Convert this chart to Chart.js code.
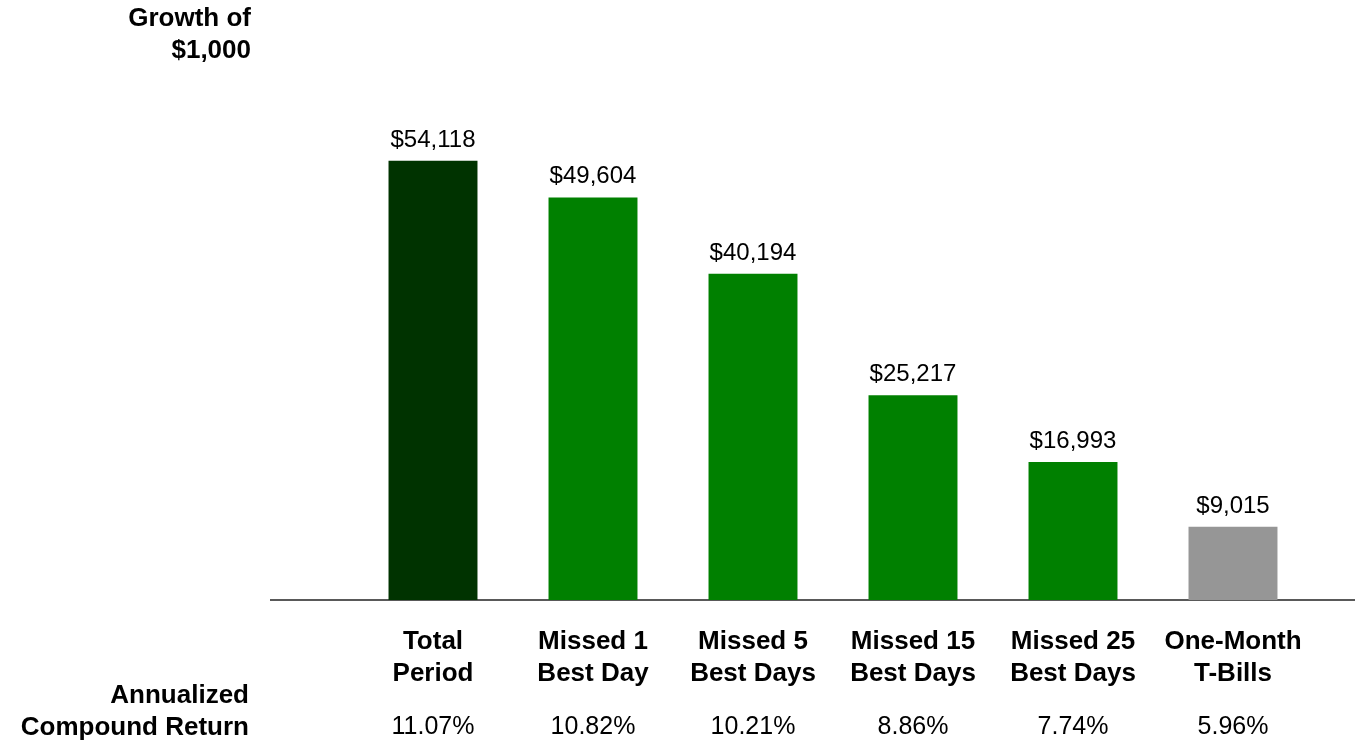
<!DOCTYPE html>
<html lang="en">

<head>
    <meta charset="UTF-8">
    <meta name="viewport" content="width=device-width, initial-scale=1.0">
    <script src="https://cdn.jsdelivr.net/npm/chart.js"></script>
    <title>Growth of $1,000</title>
    <style>
        html, body { margin: 0; padding: 0; background: white; }
        .graph { width: 1355px; height: 742px; }
    </style>
</head>

<body>
    <div class="graph">
        <canvas id="myChart"></canvas>
    </div>
</body>

</html>

<script>
    // chart data
    var categorias = [
        ['Total', 'Period'],
        ['Missed 1', 'Best Day'],
        ['Missed 5', 'Best Days'],
        ['Missed 15', 'Best Days'],
        ['Missed 25', 'Best Days'],
        ['One-Month', 'T-Bills']
    ]
    var valores = [54118, 49604, 40194, 25217, 16993, 9015]
    var retornos = ['11.07%', '10.82%', '10.21%', '8.86%', '7.74%', '5.96%']
    var cores = ['#003300', '#008000', '#008000', '#008000', '#008000', '#969696']

    var fonte = "'Liberation Sans', Arial, sans-serif"

    function formatarDolar(v) {
        return '$' + v.toLocaleString('en-US')
    }

    // axis line, value labels, left titles and return row
    var extras = {
        id: 'extras',
        beforeDatasetsDraw: function (chart) {
            var ctx = chart.ctx
            var y = chart.scales.y.getPixelForValue(0)
            ctx.save()
            ctx.strokeStyle = '#595959'
            ctx.lineWidth = 2
            ctx.beginPath()
            ctx.moveTo(270, y)
            ctx.lineTo(1355, y)
            ctx.stroke()
            ctx.restore()
        },
        afterDatasetsDraw: function (chart) {
            var ctx = chart.ctx
            var meta = chart.getDatasetMeta(0)
            var xScale = chart.scales.x
            ctx.save()
            ctx.fillStyle = '#000'

            // values above bars
            ctx.font = '24px ' + fonte
            ctx.textAlign = 'center'
            ctx.textBaseline = 'alphabetic'
            meta.data.forEach(function (bar, i) {
                ctx.fillText(formatarDolar(valores[i]), bar.x, bar.y - 14)
            })

            // annualized returns row
            ctx.font = '25px ' + fonte
            ctx.textBaseline = 'middle'
            for (var i = 0; i < retornos.length; i++) {
                ctx.fillText(retornos[i], xScale.getPixelForValue(i), 727)
            }

            // left titles
            ctx.font = 'bold 26px ' + fonte
            ctx.textAlign = 'right'
            ctx.fillText('Growth of', 251, 19)
            ctx.fillText('$1,000', 251, 51)
            ctx.fillText('Annualized', 249, 696)
            ctx.fillText('Compound Return', 249, 728)
            ctx.restore()
        }
    }

    var dados = {
        labels: categorias,
        datasets: [{
            data: valores,
            backgroundColor: cores,
            borderWidth: 0,
            barPercentage: 0.556,
            categoryPercentage: 1
        }]
    }

    var config = {
        type: 'bar',
        data: dados,
        options: {
            responsive: false,
            animation: false,
            layout: { padding: { left: 353, right: 42, top: 113, bottom: 0 } },
            plugins: {
                legend: { display: false },
                tooltip: { enabled: false }
            },
            scales: {
                x: {
                    grid: { display: false, drawTicks: false },
                    border: { display: false },
                    ticks: {
                        color: '#000',
                        padding: 26,
                        font: { family: fonte, size: 26, weight: 'bold', lineHeight: 1.23 },
                        maxRotation: 0,
                        autoSkip: false
                    },
                    afterFit: function (scale) { scale.height = 142 }
                },
                y: {
                    display: false,
                    min: 0,
                    max: 60000
                }
            }
        },
        plugins: [extras]
    }

    var canvas = document.getElementById('myChart')
    canvas.width = 1355
    canvas.height = 742
    var myChart = new Chart(canvas, config)
</script>
